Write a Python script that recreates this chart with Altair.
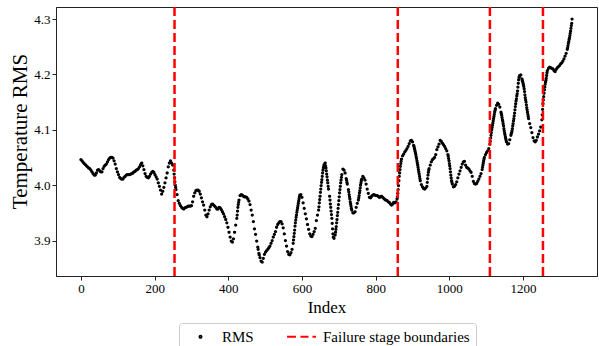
import altair as alt
import pandas as pd

# RMS values read every 3 indices (index 0, 3, 6, ... 1332)
rms_step3 = [
    4.046, 4.044, 4.041, 4.039, 4.037, 4.035, 4.033, 4.031, 4.030, 4.027,
    4.024, 4.021, 4.018, 4.018, 4.022, 4.027, 4.028, 4.026, 4.024, 4.024,
    4.030, 4.034, 4.036, 4.038, 4.042, 4.046, 4.049, 4.050, 4.050, 4.049,
    4.044, 4.038, 4.030, 4.024, 4.019, 4.014, 4.012, 4.011, 4.011, 4.014,
    4.016, 4.018, 4.019, 4.019, 4.019, 4.020, 4.021, 4.022, 4.024, 4.025,
    4.027, 4.028, 4.030, 4.033, 4.037, 4.040, 4.035, 4.028, 4.021, 4.016,
    4.014, 4.013, 4.016, 4.020, 4.023, 4.025, 4.023, 4.019, 4.015, 4.011,
    4.004, 3.998, 3.991, 3.984, 3.989, 3.996, 4.004, 4.013, 4.022, 4.033,
    4.040, 4.044, 4.040, 4.036, 4.027, 4.006, 3.992, 3.983, 3.972, 3.967,
    3.963, 3.960, 3.958, 3.957, 3.959, 3.960, 3.961, 3.962, 3.962, 3.962,
    3.963, 3.970, 3.980, 3.986, 3.990, 3.991, 3.991, 3.989, 3.984, 3.977,
    3.970, 3.964, 3.955, 3.946, 3.943, 3.948, 3.955, 3.961, 3.965, 3.966,
    3.964, 3.962, 3.960, 3.957, 3.957, 3.960, 3.959, 3.956, 3.952, 3.948,
    3.943, 3.938, 3.932, 3.924, 3.915, 3.906, 3.899, 3.897, 3.903, 3.915,
    3.928, 3.940, 3.960, 3.973, 3.981, 3.983, 3.982, 3.980, 3.979, 3.979,
    3.978, 3.975, 3.971, 3.965, 3.955, 3.946, 3.934, 3.921, 3.911, 3.899,
    3.888, 3.877, 3.869, 3.863, 3.861, 3.868, 3.875, 3.879, 3.882, 3.884,
    3.887, 3.890, 3.895, 3.900, 3.906, 3.911, 3.916, 3.924, 3.929, 3.932,
    3.934, 3.934, 3.930, 3.923, 3.912, 3.900, 3.890, 3.880, 3.875, 3.874,
    3.878, 3.884, 3.895, 3.913, 3.932, 3.946, 3.959, 3.971, 3.982, 3.983,
    3.978, 3.968, 3.958, 3.948, 3.939, 3.929, 3.920, 3.912, 3.908, 3.907,
    3.911, 3.916, 3.922, 3.936, 3.946, 3.955, 3.974, 3.993, 4.010, 4.027,
    4.037, 4.040, 4.026, 4.009, 3.993, 3.980, 3.960, 3.940, 3.912, 3.904,
    3.910, 3.925, 3.945, 3.965, 3.986, 4.004, 4.019, 4.029, 4.027, 4.022,
    4.012, 4.002, 3.992, 3.979, 3.966, 3.955, 3.950, 3.950, 3.952, 3.960,
    3.967, 3.973, 3.986, 4.000, 4.011, 4.016, 4.013, 4.009, 4.002, 3.993,
    3.985, 3.978, 3.977, 3.980, 3.982, 3.983, 3.982, 3.981, 3.981, 3.980,
    3.978, 3.979, 3.980, 3.978, 3.976, 3.974, 3.973, 3.972, 3.970, 3.969,
    3.966, 3.964, 3.966, 3.969, 3.968, 3.970, 3.975, 3.992, 4.016, 4.034,
    4.047, 4.053, 4.056, 4.060, 4.063, 4.066, 4.070, 4.075, 4.080, 4.081,
    4.078, 4.072, 4.064, 4.055, 4.044, 4.032, 4.020, 4.008, 4.001, 3.997,
    3.994, 3.993, 3.995, 3.998, 4.018, 4.030, 4.036, 4.042, 4.046, 4.048,
    4.050, 4.055, 4.064, 4.069, 4.074, 4.081, 4.079, 4.076, 4.073, 4.070,
    4.066, 4.062, 4.055, 4.044, 4.030, 4.013, 4.002, 3.997, 3.998, 4.001,
    4.006, 4.013, 4.020, 4.026, 4.032, 4.038, 4.042, 4.043, 4.036, 4.032,
    4.031, 4.029, 4.026, 4.023, 4.016, 4.007, 4.003, 4.002, 4.003, 4.007,
    4.011, 4.016, 4.021, 4.028, 4.040, 4.050, 4.055, 4.059, 4.062, 4.066,
    4.074, 4.090, 4.104, 4.116, 4.128, 4.138, 4.144, 4.148, 4.146, 4.141,
    4.132, 4.122, 4.111, 4.098, 4.087, 4.078, 4.074, 4.075, 4.082, 4.090,
    4.098, 4.111, 4.125, 4.142, 4.156, 4.170, 4.190, 4.198, 4.199, 4.192,
    4.184, 4.174, 4.158, 4.145, 4.132, 4.120, 4.111, 4.104, 4.095, 4.086,
    4.080, 4.078, 4.081, 4.087, 4.092, 4.098, 4.105, 4.118, 4.147, 4.166,
    4.182, 4.193, 4.207, 4.211, 4.213, 4.212, 4.211, 4.210, 4.207, 4.205,
    4.209, 4.212, 4.214, 4.216, 4.219, 4.221, 4.224, 4.228, 4.233, 4.238,
    4.245, 4.256, 4.266, 4.278, 4.292,
]
idx_step3 = list(range(0, 3 * len(rms_step3), 3))

# extra readings on the steep stretches
extra_idx = [
    253, 254, 256, 257, 424, 425, 427, 428, 481, 484,
    577, 578, 580, 581, 583, 584, 586, 587, 589, 590, 592, 593,
    646, 647, 649, 650, 652, 653, 655, 656, 658, 659,
    664, 665, 667, 668, 670, 671, 676, 677, 679, 680, 682, 683, 685,
    691, 692, 694, 695, 697, 698, 700, 701, 703, 704, 706, 707,
    721, 722, 727, 728, 730, 731, 733, 734,
    754, 755, 757, 758, 760, 761,
    859, 860, 862, 863, 865, 866, 868, 869,
    904, 905, 907, 908, 910, 911, 913, 914, 916, 917, 919, 920,
    940, 941, 943, 944,
    997, 998, 1000, 1001, 1003, 1004, 1006, 1007,
    1090, 1091, 1093, 1094,
    1111, 1112, 1114, 1115, 1117, 1118, 1120, 1121, 1123, 1124,
    1141, 1142, 1144, 1145, 1147, 1148, 1150, 1151, 1153, 1154,
    1168, 1169, 1171, 1172, 1174, 1175, 1177, 1178, 1180, 1181, 1183, 1184,
    1186, 1187, 1189, 1190,
    1198, 1199, 1201, 1202, 1204, 1205, 1207, 1208, 1210, 1211, 1213, 1214,
    1252, 1253, 1255, 1256, 1258, 1259, 1261, 1262, 1264, 1265,
    1321, 1322, 1324, 1325, 1327, 1328, 1330, 1331, 1333,
]
extra_rms = [
    4.020, 4.013, 4.000, 3.996, 3.946, 3.953, 3.965, 3.969, 3.884, 3.874,
    3.901, 3.907, 3.919, 3.926, 3.937, 3.942, 3.951, 3.955, 3.963, 3.967, 3.975, 3.979,
    3.961, 3.968, 3.980, 3.987, 3.999, 4.005, 4.016, 4.022, 4.031, 4.034,
    4.035, 4.031, 4.020, 4.015, 4.004, 3.998, 3.973, 3.966, 3.953, 3.947, 3.931, 3.921, 3.906,
    3.915, 3.920, 3.932, 3.938, 3.951, 3.958, 3.972, 3.979, 3.992, 3.998, 4.009, 4.014,
    4.009, 4.005, 3.988, 3.983, 3.975, 3.970, 3.962, 3.958,
    3.977, 3.981, 3.990, 3.995, 4.004, 4.008,
    3.979, 3.985, 3.999, 4.008, 4.022, 4.028, 4.039, 4.043,
    4.070, 4.067, 4.061, 4.058, 4.051, 4.048, 4.040, 4.036, 4.028, 4.024, 4.016, 4.012,
    4.005, 4.012, 4.023, 4.027,
    4.052, 4.048, 4.039, 4.035, 4.024, 4.018, 4.008, 4.005,
    4.032, 4.036, 4.044, 4.047,
    4.079, 4.085, 4.095, 4.100, 4.108, 4.112, 4.120, 4.124, 4.132, 4.135,
    4.129, 4.126, 4.118, 4.115, 4.107, 4.102, 4.094, 4.091, 4.084, 4.081,
    4.093, 4.095, 4.102, 4.107, 4.116, 4.120, 4.130, 4.136, 4.147, 4.152, 4.161, 4.165,
    4.177, 4.184, 4.194, 4.196,
    4.189, 4.187, 4.181, 4.178, 4.169, 4.163, 4.154, 4.150, 4.140, 4.136, 4.128, 4.124,
    4.127, 4.137, 4.154, 4.160, 4.172, 4.177, 4.186, 4.189, 4.198, 4.203,
    4.248, 4.252, 4.259, 4.263, 4.270, 4.274, 4.283, 4.288, 4.300,
]

boundaries = [254, 860, 1110, 1254]
x_ticks = [0, 200, 400, 600, 800, 1000, 1200]
y_ticks = [3.9, 4.0, 4.1, 4.2, 4.3]
series_names = ["RMS", "Failure stage boundaries"]

df = pd.DataFrame({"Index": idx_step3 + extra_idx, "RMS": rms_step3 + extra_rms})
df["series"] = "RMS"
bdf = pd.DataFrame({"Index": boundaries})

FONT = "Liberation Serif"
dash_path = "M-16.7,0L-6.4,0M-1.2,0L8.1,0M12.7,0L16.7,0"

legend = alt.Legend(
    title=None, orient="none", legendX=123, legendY=316, direction="horizontal",
    labelFont=FONT, labelFontSize=15, labelColor="black", labelOffset=14,
    columnPadding=28, symbolOffset=8, symbolSize=3, symbolStrokeWidth=2.2,
    symbolOpacity=1, padding=6, cornerRadius=3, strokeColor="#cccccc",
    fillColor="white",
)

x_enc = alt.X("Index:Q",
              scale=alt.Scale(domain=[-67.7, 1400.7], nice=False, zero=False),
              axis=alt.Axis(values=x_ticks, format="d", title="Index",
                            titlePadding=4, labelFont=FONT, titleFont=FONT,
                            titleFontSize=17))

points = alt.Chart(df).mark_point(
    filled=False, shape="circle", size=3, strokeWidth=1.5, opacity=1
).encode(
    x=x_enc,
    y=alt.Y("RMS:Q",
            scale=alt.Scale(domain=[3.836, 4.3217], nice=False, zero=False),
            axis=alt.Axis(values=y_ticks, format=".1f", title="Temperature RMS",
                          labelFont=FONT, titleFont=FONT, titleFontSize=21,
                          titlePadding=3, titleY=124)),
    color=alt.Color("series:N",
                    scale=alt.Scale(domain=series_names, range=["black", "red"]),
                    legend=legend),
    shape=alt.Shape("series:N",
                    scale=alt.Scale(domain=series_names, range=["circle", dash_path]),
                    legend=legend),
)

rules = alt.Chart(bdf).mark_rule(
    color="red", strokeDash=[9, 4], strokeWidth=2.5
).encode(x=alt.X("Index:Q"))

chart = alt.layer(points, rules).properties(
    width=541, height=269,
    autosize=alt.AutoSizeParams(type="none"),
    padding={"left": 56, "top": 7, "right": 2, "bottom": 70},
).configure_view(
    stroke="#222222", strokeWidth=1
).configure_axis(
    labelFont=FONT, labelFontSize=13, labelColor="black",
    titleFont=FONT, titleFontWeight="normal", titleColor="black",
    tickColor="#222222", domainColor="#222222", tickSize=4, labelPadding=2,
    grid=False,
)

chart.save("out.html", embed_options={"renderer": "svg", "actions": False})
